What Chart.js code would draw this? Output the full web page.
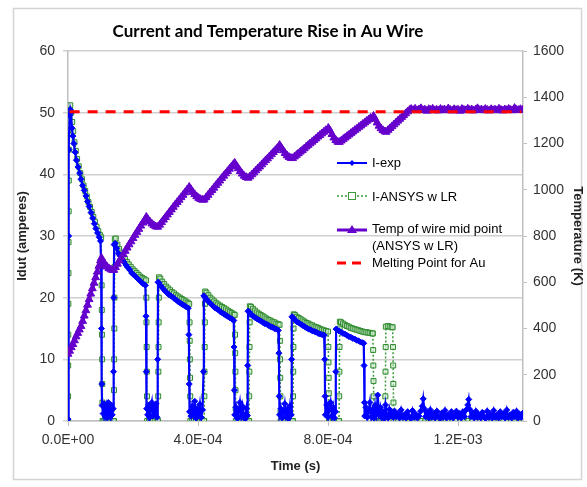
<!DOCTYPE html>
<html>
<head>
<meta charset="utf-8">
<title>Current and Temperature Rise in Au Wire</title>
<script src="https://cdn.jsdelivr.net/npm/chart.js@4.4.1/dist/chart.umd.min.js"></script>
<style>
  html, body { margin: 0; padding: 0; background: #fff; }
  #wrap { width: 587px; height: 487px; }
</style>
</head>
<body>
<div id="wrap"><canvas id="chart" width="587" height="487"></canvas></div>
<script>
// time in microseconds, current in amperes, temperature in kelvin
const chartTitle = 'Current and Temperature Rise in Au Wire';
const xTicks = [0, 4e-4, 8e-4, 1.2e-3];

// I-exp : measured current
const iExp = [
  [0,0.3],[1,12],[2,30],[3,44],[5,49.5],[7,50.5],[9,50],[12,47.5],[15,46.2],[18,45],[22,43.6],[26,42.3],
  [31,41.2],[36,40.2],[40,39.2],[45,38.2],[50,37.4],[55,36.5],[60,35.6],[65,34.8],[71,33.8],[76,32.9],
  [81,32],[86,31.2],[91,30.5],[96,29.8],[100,29.2],[102,25],[103,15],[104,6],[105,2.5],
  [108,1.2],[111,2.8],[114,0.8],[118,2.2],[121,0.5],[124,3],[127,1.5],[130,0.7],[133,2.6],[136,1],[139,2],
  [140,8],[141,20],[142,28.6],[145,28.8],[150,28],[155,27.2],[160,26.8],[166,26.2],[172,25.8],[178,25.3],
  [184,24.9],[190,24.5],[196,24],[202,23.7],[208,23.4],[214,23.1],[220,22.8],[226,22.5],[232,22.2],[238,22],
  [240,17],[241,8],[242,2],
  [245,1],[248,2.6],[251,0.6],[254,1.8],[258,3],[261,0.8],[264,2.2],[268,1.2],[271,2.8],[274,0.6],
  [276,10],[277,22.5],[280,22.4],[286,21.9],[292,21.5],[298,21.1],[304,20.8],[310,20.5],[316,20.3],[322,20.1],
  [328,19.8],[334,19.6],[340,19.3],[346,19.1],[352,18.9],[358,18.7],[364,18.5],[370,18.3],[372,14],[373,6],[374,1.5],
  [378,0.8],[382,2.4],[386,1.2],[390,3.2],[394,0.5],[398,2],[402,1],[406,2.7],[410,0.6],[414,1.8],
  [417,8],[418,20.3],[421,20.1],[427,19.7],[433,19.3],[439,19],[445,18.7],[451,18.4],[457,18.2],[463,18],
  [469,17.7],[475,17.5],[481,17.3],[487,17.1],[493,16.9],[499,16.7],[505,16.5],[510,16.3],[511,12],[512,5],[513,1],
  [517,2.2],[521,0.4],[525,1.6],[529,3],[533,0.8],[537,2.4],[541,1],[545,0.3],[549,2],[552,0.9],
  [553,9],[554,17.8],[557,17.7],[563,17.3],[569,17],[575,16.8],[581,16.6],[587,16.4],[593,16.2],[599,16],
  [605,15.8],[611,15.7],[617,15.5],[623,15.3],[629,15.2],[635,15],[641,14.9],[647,14.7],[649,11],[650,4],[651,1],
  [655,2],[659,0.5],[663,1.4],[667,2.8],[671,0.7],[675,1.9],[679,0.4],[683,2.4],[687,1],
  [688,10],[689,16.9],[692,16.8],[698,16.4],[704,16.1],[710,15.9],[716,15.7],[722,15.5],[728,15.3],[734,15.1],
  [740,14.9],[746,14.8],[752,14.6],[758,14.5],[764,14.4],[770,14.2],[776,14.1],[782,14],[788,13.9],
  [790,10],[791,4],[792,1],
  [796,2.6],[800,0.6],[804,1.8],[808,3],[812,0.8],[816,2.2],[820,0.5],[823,1.5],
  [824,8],[825,14.9],[828,14.8],[834,14.6],[840,14.4],[846,14.2],[852,14.1],[858,13.9],[864,13.7],[870,13.6],
  [876,13.4],[882,13.3],[888,13.1],[894,13],[900,12.8],[906,12.7],[910,12.6],[911,9],[912,3],[913,0.8],
  [917,2.2],[921,0.6],[925,1.5],[929,3],[933,0.7],[937,1.8],[941,0.5],[945,2.5],[949,1],[953,4.2],[957,1.2],
  [961,2.2],[965,0.6],[969,1.5],[973,0.4],[977,2.6],[981,1],[985,0.5],[989,1.9],[993,0.8],[997,1.4],[1001,0.6],
  [1005,1.6],[1010,0.7],[1015,1.2],[1020,0.5],[1025,1.8],[1030,0.6],[1035,1],[1040,0.5],[1045,1.5],[1050,0.7],
  [1055,0.4],[1060,1.7],[1065,0.6],[1070,1.1],[1075,0.5],[1080,0.8],[1085,1.6],[1090,2.4],[1093,3.6],[1096,2],
  [1100,0.7],[1105,1.4],[1110,0.5],[1115,1.8],[1120,0.6],[1125,1.2],[1130,0.5],[1135,1.6],[1140,0.7],[1145,0.4],
  [1150,1.3],[1155,0.6],[1160,1.7],[1165,0.5],[1170,1],[1175,0.6],[1180,1.5],[1185,0.5],[1190,0.9],[1195,1.6],
  [1200,0.6],[1205,1.2],[1210,0.5],[1215,1.5],[1220,0.7],[1225,1.8],[1230,2.6],[1233,3.5],[1236,1.9],[1240,0.7],
  [1245,1.3],[1250,0.5],[1255,1.6],[1260,0.6],[1265,1],[1270,0.5],[1275,1.4],[1280,0.7],[1285,0.4],[1290,1.6],
  [1295,0.6],[1300,1.1],[1305,0.5],[1310,1.7],[1315,0.6],[1320,1],[1325,0.5],[1330,1.5],[1335,0.7],[1340,1.2],
  [1345,0.5],[1350,1.8],[1355,0.6],[1360,1],[1365,0.5],[1370,1.4],[1375,0.7],[1380,1.6],[1385,0.5],[1390,1.1],
  [1395,0.6],[1400,1.3]
];

// I-ANSYS w LR : simulated current
const iAnsys = [
  [0,0],[0.3,4],[0.6,9],[0.9,14],[1.2,19],[1.5,24],[1.8,29],[2.1,34],[2.4,39],[2.7,44],[3,48],[5,50.5],[7,51.2],
  [10,50],[13,48.5],[16,47],[20,45.2],[24,43.8],[28,42.5],[33,41.3],[38,40.2],[43,39.2],[48,38.2],[53,37.3],
  [58,36.4],[63,35.5],[68,34.7],[73,33.9],[78,33.1],[83,32.3],[88,31.5],[93,30.8],[98,30.2],[102,29.8],
  [103,26],[103.5,22],[104,18],[104.5,14],[105,10],[105.5,6],[106,3],[106.5,0],
  [110,0],[116,0],[122,0],[128,0],[134,0],[140,0],
  [141,0],[141.5,5],[142,10],[142.5,15],[143,20],[143.5,25],[144,29.5],[147,29.6],[152,28.6],[157,27.9],
  [163,27.3],[169,26.8],[175,26.3],[181,25.8],[187,25.4],[193,25],[199,24.6],[205,24.3],[211,24],[217,23.7],
  [223,23.4],[229,23.2],[235,23],[240,22.8],[241,20],[241.5,16],[242,12],[242.5,8],[243,4],[243.5,0],
  [249,0],[255,0],[261,0],[267,0],[273,0],
  [277,0],[277.5,4],[278,8],[278.5,12],[279,16],[279.5,20],[280,23.3],[284,23.1],[290,22.6],[296,22.2],
  [302,21.8],[308,21.5],[314,21.2],[320,20.9],[326,20.7],[332,20.4],[338,20.2],[344,20],[350,19.8],[356,19.6],
  [362,19.4],[368,19.2],[373,19],[374,16],[374.5,13],[375,10],[375.5,7],[376,4],[376.5,0],
  [382,0],[388,0],[394,0],[400,0],[406,0],[412,0],[418,0],
  [419,0],[419.5,4],[420,8],[420.5,12],[421,16],[421.5,19],[422,21],[426,20.8],[432,20.4],[438,20],[444,19.7],
  [450,19.4],[456,19.1],[462,18.9],[468,18.7],[474,18.5],[480,18.3],[486,18.1],[492,17.9],[498,17.7],[504,17.5],
  [510,17.3],[513,17.2],[514,14],[514.5,11],[515,8],[515.5,5],[516,2],[516.5,0],
  [522,0],[528,0],[534,0],[540,0],[546,0],[552,0],
  [557,0],[557.5,4],[558,8],[558.5,12],[559,16],[559.5,18.6],[563,18.5],[569,18.2],[575,17.9],[581,17.6],
  [587,17.4],[593,17.2],[599,17],[605,16.8],[611,16.6],[617,16.4],[623,16.3],[629,16.1],[635,16],[641,15.8],
  [647,15.7],[651,15.6],[652,13],[652.5,10],[653,7],[653.5,4],[654,1.5],[654.5,0],
  [660,0],[666,0],[672,0],[678,0],[684,0],[690,0],
  [692,0],[692.5,4],[693,8],[693.5,12],[694,15],[694.5,17.3],[698,17.2],[704,16.9],[710,16.7],[716,16.5],
  [722,16.3],[728,16.1],[734,15.9],[740,15.8],[746,15.6],[752,15.5],[758,15.3],[764,15.2],[770,15.1],[776,14.9],
  [782,14.8],[788,14.7],[794,14.6],[800,14.5],[801,12],[801.5,9.5],[802,7],[802.5,4.5],[803,2],[803.5,0],
  [809,0],[815,0],[821,0],[827,0],[833,0],
  [834,0],[834.5,4],[835,8],[835.5,12],[836,15],[836.5,16.1],[840,16],[846,15.8],[852,15.6],[858,15.4],
  [864,15.3],[870,15.1],[876,15],[882,14.9],[888,14.8],[894,14.7],[900,14.6],[906,14.5],[912,14.4],[918,14.4],
  [924,14.3],[930,14.3],[936,14.2],[938,14.2],[939,11.5],[939.5,9],[940,6.5],[940.5,4],[941,1.5],[941.5,0],
  [947,0],[953,0],[959,0],[965,0],[971,0],
  [976,0],[976.5,4],[977,8],[977.5,12],[978,15.3],[984,15.4],[990,15.3],[996,15.2],[999,15.2],
  [1000,12],[1000.5,9],[1001,6],[1001.5,3],[1002,0],
  [1015,0],[1027,0],[1039,0],[1051,0],[1063,0],[1075,0],[1087,0],[1099,0],[1111,0],[1123,0],[1135,0],
  [1147,0],[1159,0],[1171,0],[1183,0],[1195,0],[1207,0],[1219,0],[1231,0],[1243,0],[1255,0],[1267,0],
  [1279,0],[1291,0],[1303,0],[1315,0],[1327,0],[1339,0],[1351,0],[1363,0],[1375,0],[1387,0],[1399,0]
];

// Temp of wire mid point (ANSYS w LR)
const tempMid = [
  [0,290],[5,303],[10,318],[15,332],[20,348],[25,365],[30,380],[35,395],[40,410],[45,432],[50,455],[55,478],
  [60,502],[65,526],[70,550],[75,573],[80,597],[85,621],[90,645],[95,670],[100,694],[103,705],
  [108,690],[114,678],[120,667],[126,660],[132,655],[138,652],[141,653],
  [146,665],[152,679],[158,693],[164,707],[170,721],[176,735],[182,749],[188,763],[194,776],[200,790],
  [206,804],[212,817],[218,830],[224,844],[230,857],[236,869],[241,882],
  [246,872],[252,862],[258,853],[264,846],[270,841],[276,839],
  [282,848],[288,859],[294,870],[300,881],[306,892],[312,903],[318,914],[324,925],[330,936],[336,946],
  [342,956],[348,967],[354,977],[360,988],[366,999],[373,1012],
  [378,1002],[384,990],[390,980],[396,971],[402,964],[408,959],[414,956],[419,957],
  [425,967],[431,977],[437,988],[443,998],[449,1008],[455,1019],[461,1029],[467,1039],[473,1050],[479,1060],
  [485,1070],[491,1080],[497,1090],[503,1100],[509,1110],[513,1116],
  [518,1105],[524,1092],[530,1080],[536,1069],[542,1060],[548,1054],[554,1051],
  [560,1057],[566,1066],[572,1074],[578,1083],[584,1092],[590,1100],[596,1109],[602,1118],[608,1127],[614,1135],
  [620,1144],[626,1153],[632,1162],[638,1171],[644,1180],[651,1193],
  [656,1183],[662,1170],[668,1158],[674,1148],[680,1141],[686,1137],[691,1136],
  [697,1143],[703,1150],[709,1157],[715,1164],[721,1171],[727,1178],[733,1186],[739,1193],[745,1200],[751,1207],
  [757,1214],[763,1221],[769,1229],[775,1236],[781,1243],[787,1250],[793,1257],[801,1267],
  [806,1256],[812,1240],[818,1225],[824,1214],[830,1207],[835,1206],
  [841,1212],[847,1219],[853,1225],[859,1232],[865,1238],[871,1245],[877,1251],[883,1258],[889,1264],[895,1271],
  [901,1277],[907,1284],[913,1290],[919,1297],[925,1303],[931,1310],[940,1319],
  [945,1306],[951,1290],[957,1276],[963,1265],[969,1257],[975,1252],[979,1250],
  [985,1258],[991,1266],[997,1274],[1003,1282],[1009,1290],[1015,1298],[1021,1306],[1027,1314],[1033,1322],
  [1039,1330],[1045,1338],[1051,1345],[1056,1349],
  [1062,1344],[1068,1350],[1074,1343],[1080,1347],[1086,1352],[1092,1344],[1098,1346],[1104,1341],[1110,1348],
  [1116,1345],[1122,1350],[1128,1343],[1134,1346],[1140,1342],[1146,1349],[1152,1344],[1158,1347],[1164,1343],
  [1170,1351],[1176,1345],[1182,1342],[1188,1348],[1194,1344],[1200,1346],[1206,1341],[1212,1349],[1218,1345],
  [1224,1343],[1230,1350],[1236,1344],[1242,1347],[1248,1342],[1254,1346],[1260,1352],[1266,1344],[1272,1347],
  [1278,1343],[1284,1349],[1290,1345],[1296,1342],[1302,1348],[1308,1344],[1314,1346],[1320,1343],[1326,1350],
  [1332,1345],[1338,1342],[1344,1347],[1350,1344],[1356,1349],[1362,1345],[1368,1343],[1374,1353],[1380,1346],
  [1386,1344],[1392,1348],[1398,1345]
];

// Melting point for Au
const meltPoint = [[5,1337],[1395,1337]];

const toXY = pts => pts.map(([t, v]) => ({ x: t * 1e-6, y: v }));

function sciLabel(v) {
  if (Math.abs(v) < 1e-12) return '0.0E+00';
  const [m, e] = v.toExponential(1).split('e');
  const n = parseInt(e, 10);
  return m + 'E' + (n < 0 ? '-' : '+') + String(Math.abs(n)).padStart(2, '0');
}

const tickFont = { family: 'Liberation Sans, Arial, sans-serif', size: 14 };
const titleFont = { family: 'Liberation Sans, Arial, sans-serif', size: 13, weight: 'bold' };
const axisGray = '#bfbfbf';

// frame, title and legend
const decorations = {
  id: 'decorations',
  beforeDraw(chart) {
    const ctx = chart.ctx;
    ctx.save();
    ctx.fillStyle = '#fff';
    ctx.fillRect(0, 0, chart.width, chart.height);
    ctx.strokeStyle = '#d4d4d4';
    ctx.lineWidth = 1.5;
    ctx.strokeRect(13.5, 8.5, 568, 471);
    ctx.restore();
  },
  afterDraw(chart) {
    const ctx = chart.ctx;
    ctx.save();
    ctx.fillStyle = '#000';
    ctx.font = 'bold 17px Lato, "Liberation Sans", sans-serif';
    ctx.textAlign = 'center';
    ctx.textBaseline = 'middle';
    ctx.fillText(chartTitle, 268, 32);

    const x0 = 337, x1 = 367, xm = 352, tx = 372;
    ctx.font = '13px "Liberation Sans", Arial, sans-serif';
    ctx.textAlign = 'left';

    // I-exp
    ctx.strokeStyle = '#0000ff'; ctx.lineWidth = 2; ctx.setLineDash([]);
    ctx.beginPath(); ctx.moveTo(x0, 163); ctx.lineTo(x1, 163); ctx.stroke();
    ctx.fillStyle = '#0000ff';
    ctx.beginPath(); ctx.moveTo(xm, 160); ctx.lineTo(xm + 3, 163); ctx.lineTo(xm, 166); ctx.lineTo(xm - 3, 163); ctx.closePath(); ctx.fill();
    ctx.fillStyle = '#000'; ctx.fillText('I-exp', tx, 163);

    // I-ANSYS w LR
    ctx.strokeStyle = '#3c9a3c'; ctx.lineWidth = 1.5; ctx.setLineDash([2, 2]);
    ctx.beginPath(); ctx.moveTo(x0, 196); ctx.lineTo(x1, 196); ctx.stroke();
    ctx.setLineDash([]); ctx.lineWidth = 1;
    ctx.fillStyle = '#fff';
    ctx.fillRect(xm - 3.5, 192.5, 7, 7); ctx.strokeRect(xm - 3.5, 192.5, 7, 7);
    ctx.fillStyle = '#000'; ctx.fillText('I-ANSYS w LR', tx, 197);

    // Temperature
    ctx.strokeStyle = '#6600cc'; ctx.lineWidth = 3;
    ctx.beginPath(); ctx.moveTo(x0, 230); ctx.lineTo(x1, 230); ctx.stroke();
    ctx.fillStyle = '#6600cc';
    ctx.beginPath(); ctx.moveTo(xm, 225); ctx.lineTo(xm + 5, 233); ctx.lineTo(xm - 5, 233); ctx.closePath(); ctx.fill();
    ctx.fillStyle = '#000';
    ctx.fillText('Temp of wire mid point', tx, 229);
    ctx.fillText('(ANSYS w LR)', tx, 246);

    // Melting point
    ctx.strokeStyle = '#ff0000'; ctx.lineWidth = 3; ctx.setLineDash([9, 6]);
    ctx.beginPath(); ctx.moveTo(x0, 263); ctx.lineTo(x1, 263); ctx.stroke();
    ctx.setLineDash([]);
    ctx.fillStyle = '#000'; ctx.fillText('Melting Point for Au', tx, 263);
    ctx.restore();
  }
};

new Chart(document.getElementById('chart'), {
  type: 'line',
  data: {
    datasets: [
      {
        label: 'Melting Point for Au',
        data: toXY(meltPoint),
        yAxisID: 'yT',
        borderColor: '#ff0000',
        borderWidth: 3,
        borderDash: [10, 8],
        pointRadius: 0
      },
      {
        label: 'Temp of wire mid point (ANSYS w LR)',
        data: toXY(tempMid),
        yAxisID: 'yT',
        borderColor: '#6600cc',
        borderWidth: 3.5,
        pointStyle: 'triangle',
        pointRadius: 4.5,
        pointBackgroundColor: '#6600cc',
        pointBorderColor: '#6600cc',
        pointBorderWidth: 1
      },
      {
        label: 'I-exp',
        data: toXY(iExp),
        yAxisID: 'yI',
        borderColor: '#0000ff',
        borderWidth: 2.2,
        pointStyle: 'rectRot',
        pointRadius: 3,
        pointBackgroundColor: '#0000ff',
        pointBorderColor: '#0000ff',
        pointBorderWidth: 1
      },
      {
        label: 'I-ANSYS w LR',
        data: toXY(iAnsys),
        yAxisID: 'yI',
        borderColor: '#3c9a3c',
        borderWidth: 1.5,
        borderDash: [2, 2],
        pointStyle: 'rect',
        pointRadius: 3.5,
        pointBackgroundColor: 'rgba(200,230,200,0.6)',
        pointBorderColor: '#2e8b2e',
        pointBorderWidth: 1
      }
    ]
  },
  options: {
    responsive: false,
    devicePixelRatio: 1,
    animation: false,
    layout: { padding: { left: 13, right: 0, top: 51, bottom: 11 } },
    elements: { line: { tension: 0 } },
    plugins: { legend: { display: false }, tooltip: { enabled: false } },
    scales: {
      x: {
        type: 'linear',
        min: 0,
        max: 1.4e-3,
        afterBuildTicks: scale => { scale.ticks = xTicks.map(v => ({ value: v })); },
        afterFit: scale => { scale.height = 55; },
        grid: { drawOnChartArea: false, color: axisGray, tickLength: 5 },
        border: { color: axisGray, width: 1.5 },
        ticks: { font: tickFont, color: '#333', padding: 6, maxRotation: 0, autoSkip: false, callback: v => sciLabel(v) },
        title: { display: true, text: 'Time (s)', font: titleFont, color: '#222', padding: { top: 0, bottom: 2 } }
      },
      yI: {
        position: 'left',
        min: 0,
        max: 60,
        ticks: { stepSize: 10, font: tickFont, color: '#333', padding: 8 },
        afterFit: scale => { scale.width = 55; },
        grid: { color: '#cfcfcf', lineWidth: 1.5, tickLength: 5 },
        border: { color: axisGray, width: 1.5 },
        title: { display: true, text: 'Idut (amperes)', font: titleFont, color: '#222', padding: { top: 2, bottom: 0 } }
      },
      yT: {
        position: 'right',
        min: 0,
        max: 1600,
        ticks: { stepSize: 200, font: tickFont, color: '#333', padding: 6, callback: v => String(v) },
        afterFit: scale => { scale.width = 64; },
        grid: { drawOnChartArea: false, color: axisGray, tickLength: 4 },
        border: { color: axisGray, width: 1.5 },
        title: { display: true, text: 'Temperature (K)', font: titleFont, color: '#222', padding: { top: 2, bottom: 0 } }
      }
    }
  },
  plugins: [decorations]
});
</script>
</body>
</html>
